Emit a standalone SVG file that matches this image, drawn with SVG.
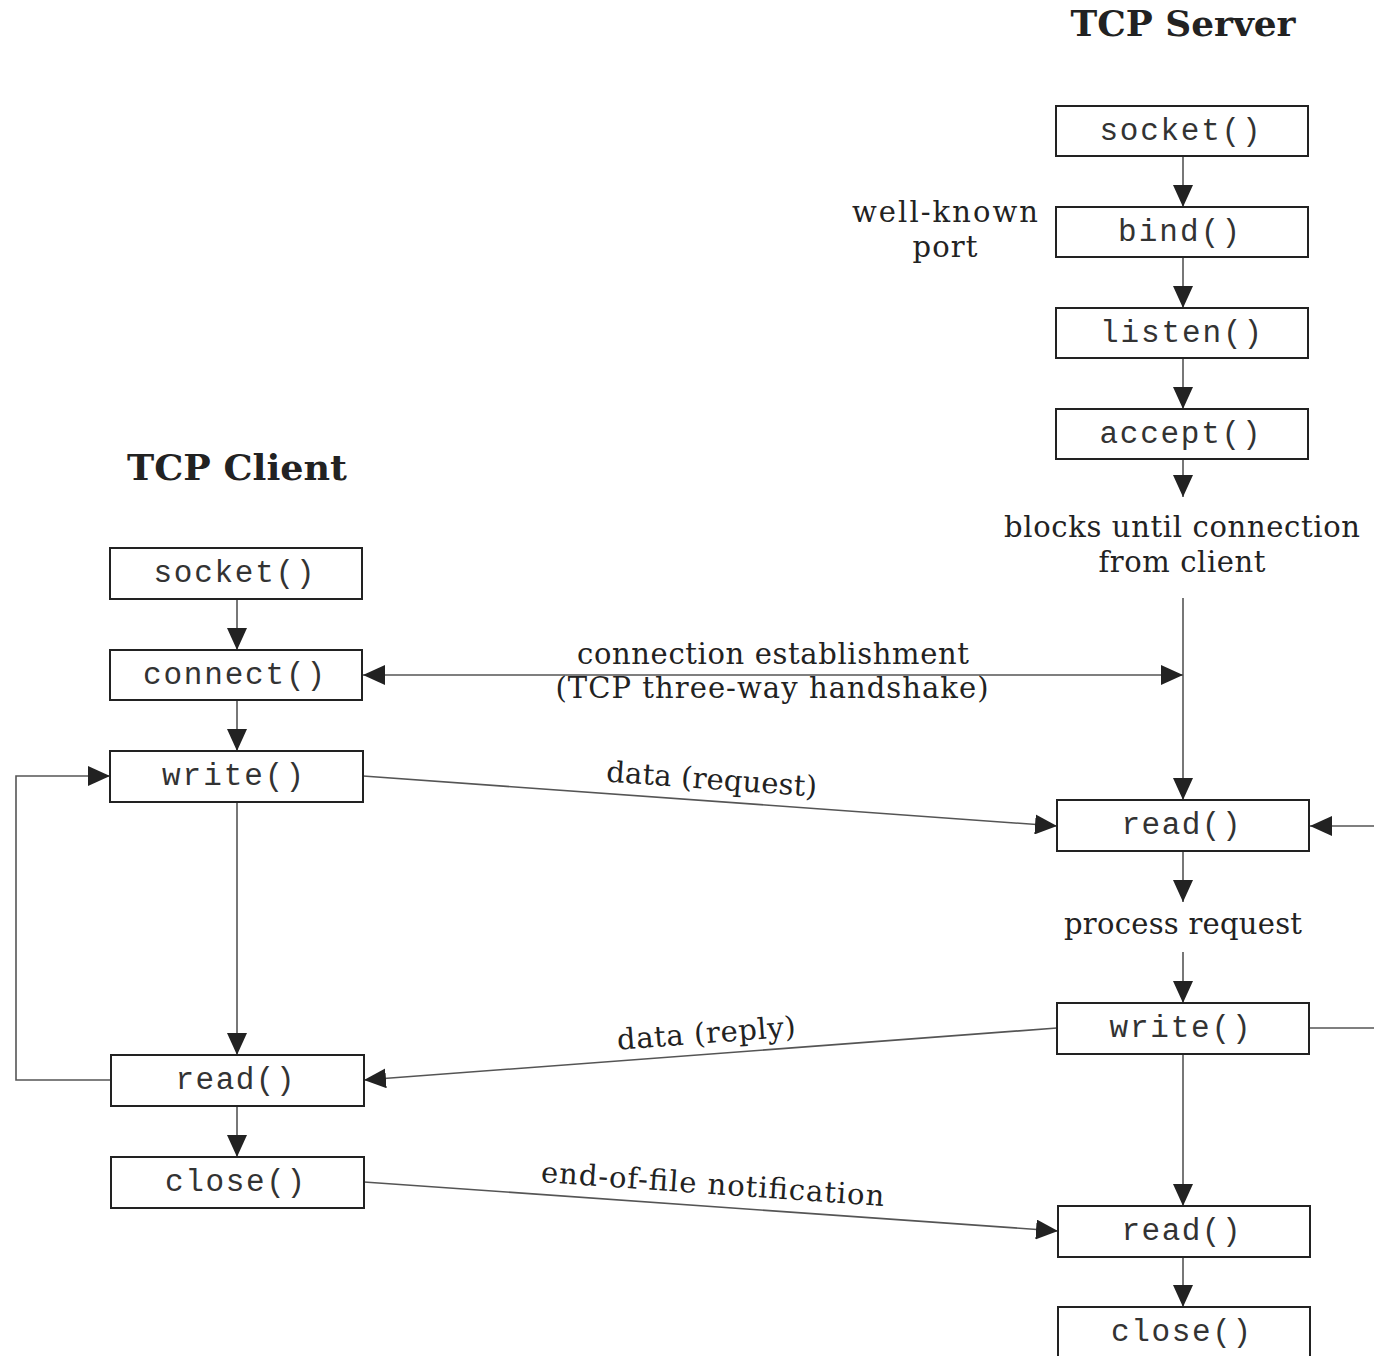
<svg xmlns="http://www.w3.org/2000/svg" width="1374" height="1356" viewBox="0 0 1374 1356">
<style>
.box{fill:#fff;stroke:#222;stroke-width:2}
.mono{font-family:"Liberation Mono","DejaVu Sans Mono",monospace;font-size:31px;fill:#333;text-anchor:middle}
.ser{font-family:"DejaVu Serif","Liberation Serif",serif;font-size:29px;fill:#222;text-anchor:middle}
.title{font-family:"DejaVu Serif","Liberation Serif",serif;font-size:36px;font-weight:bold;fill:#222;text-anchor:middle}
.c{fill:none;stroke:#555;stroke-width:1.6}
</style>
<defs>
<marker id="ah" viewBox="0 0 22 20" refX="22" refY="10" markerWidth="22" markerHeight="20" markerUnits="userSpaceOnUse" orient="auto-start-reverse">
<path d="M0,0 L22,10 L0,20 z" fill="#222"/>
</marker>
</defs>
<rect width="1374" height="1356" fill="#fff"/>
<text class="title" x="1183" y="36" textLength="225" lengthAdjust="spacingAndGlyphs">TCP Server</text>
<text class="title" x="237" y="480" textLength="220" lengthAdjust="spacingAndGlyphs">TCP Client</text>
<g id="connectors">
<line class="c" x1="1183" y1="156" x2="1183" y2="207" marker-end="url(#ah)"/>
<line class="c" x1="1183" y1="257" x2="1183" y2="308" marker-end="url(#ah)"/>
<line class="c" x1="1183" y1="358" x2="1183" y2="409" marker-end="url(#ah)"/>
<line class="c" x1="1183" y1="459" x2="1183" y2="497" marker-end="url(#ah)"/>
<line class="c" x1="1183" y1="598" x2="1183" y2="800" marker-end="url(#ah)"/>
<line class="c" x1="1183" y1="851" x2="1183" y2="902" marker-end="url(#ah)"/>
<line class="c" x1="1183" y1="952" x2="1183" y2="1003" marker-end="url(#ah)"/>
<line class="c" x1="1183" y1="1054" x2="1183" y2="1206" marker-end="url(#ah)"/>
<line class="c" x1="1183" y1="1257" x2="1183" y2="1307" marker-end="url(#ah)"/>
<line class="c" x1="237" y1="599" x2="237" y2="650" marker-end="url(#ah)"/>
<line class="c" x1="237" y1="700" x2="237" y2="751" marker-end="url(#ah)"/>
<line class="c" x1="237" y1="802" x2="237" y2="1055" marker-end="url(#ah)"/>
<line class="c" x1="237" y1="1106" x2="237" y2="1157" marker-end="url(#ah)"/>
<line class="c" x1="363" y1="675" x2="1183" y2="675" marker-start="url(#ah)" marker-end="url(#ah)"/>
<line class="c" x1="363" y1="776" x2="1057" y2="826" marker-end="url(#ah)"/>
<line class="c" x1="1057" y1="1028" x2="364" y2="1080" marker-end="url(#ah)"/>
<line class="c" x1="364" y1="1182" x2="1058" y2="1231" marker-end="url(#ah)"/>
<polyline class="c" points="111,1080 16,1080 16,776 110,776" marker-end="url(#ah)"/>
<line class="c" x1="1374" y1="826" x2="1310" y2="826" marker-end="url(#ah)"/>
<line class="c" x1="1309" y1="1028" x2="1374" y2="1028"/>
</g>
<g id="labels">
<text class="ser" x="945" y="222" textLength="186">well-known</text>
<text class="ser" x="945" y="257" textLength="65">port</text>
<text class="ser" x="1182" y="537" textLength="356">blocks until connection</text>
<text class="ser" x="1182" y="572" textLength="167">from client</text>
<text class="ser" x="773" y="664" textLength="392">connection establishment</text>
<text class="ser" x="772" y="698" textLength="433">(TCP three-way handshake)</text>
<text class="ser" x="1183" y="934" textLength="238">process request</text>
<text class="ser" x="711" y="789" textLength="211" transform="rotate(4.1 711 789)">data (request)</text>
<text class="ser" x="707" y="1043" textLength="179" transform="rotate(-4.3 707 1043)">data (reply)</text>
<text class="ser" x="712" y="1194" textLength="344" transform="rotate(4.0 712 1194)">end-of-file notification</text>
</g>
<g id="srv-socket"><rect class="box" x="1056" y="106" width="252" height="50"/><text class="mono" x="1180" y="140" textLength="161">socket()</text></g>
<g id="srv-bind"><rect class="box" x="1056" y="207" width="252" height="50"/><text class="mono" x="1179" y="241" textLength="122">bind()</text></g>
<g id="srv-listen"><rect class="box" x="1056" y="308" width="252" height="50"/><text class="mono" x="1181" y="342" textLength="162">listen()</text></g>
<g id="srv-accept"><rect class="box" x="1056" y="409" width="252" height="50"/><text class="mono" x="1180" y="443" textLength="161">accept()</text></g>
<g id="srv-read1"><rect class="box" x="1057" y="800" width="252" height="51"/><text class="mono" x="1181" y="834" textLength="119">read()</text></g>
<g id="srv-write"><rect class="box" x="1057" y="1003" width="252" height="51"/><text class="mono" x="1180" y="1037" textLength="141">write()</text></g>
<g id="srv-read2"><rect class="box" x="1058" y="1206" width="252" height="51"/><text class="mono" x="1181" y="1240" textLength="119">read()</text></g>
<g id="srv-close"><rect class="box" x="1058" y="1307" width="252" height="60"/><text class="mono" x="1181" y="1341" textLength="140">close()</text></g>
<g id="cli-socket"><rect class="box" x="110" y="548" width="252" height="51"/><text class="mono" x="234" y="582" textLength="161">socket()</text></g>
<g id="cli-connect"><rect class="box" x="110" y="650" width="252" height="50"/><text class="mono" x="234" y="684" textLength="182">connect()</text></g>
<g id="cli-write"><rect class="box" x="110" y="751" width="253" height="51"/><text class="mono" x="233" y="785" textLength="142">write()</text></g>
<g id="cli-read"><rect class="box" x="111" y="1055" width="253" height="51"/><text class="mono" x="235" y="1089" textLength="119">read()</text></g>
<g id="cli-close"><rect class="box" x="111" y="1157" width="253" height="51"/><text class="mono" x="235" y="1191" textLength="140">close()</text></g>
</svg>
